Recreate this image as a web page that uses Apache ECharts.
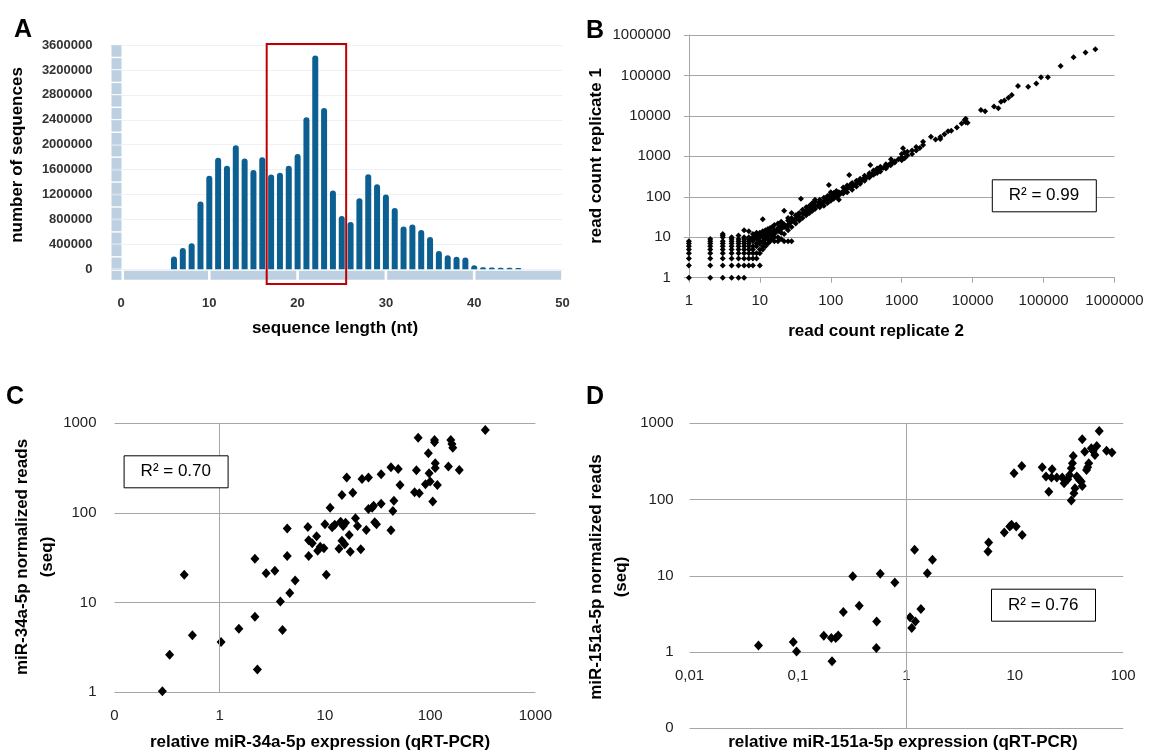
<!DOCTYPE html>
<html><head><meta charset="utf-8">
<script src="https://cdn.jsdelivr.net/npm/echarts@6/dist/echarts.min.js"></script>
<style>html,body{margin:0;padding:0;background:#fff}#c{width:1149px;height:753px}</style>
</head><body><div id="c"></div>
<script>
const FONT = '"Liberation Sans", Arial, Helvetica, sans-serif';

// ---------- Panel A: length distribution ----------
const aLengths = [6,7,8,9,10,11,12,13,14,15,16,17,18,19,20,21,22,23,24,25,26,27,28,29,30,31,32,33,34,35,36,37,38,39,40,41,42,43,44,45];
const aCounts = [205000,340000,420000,1090000,1500000,1790000,1660000,1990000,1780000,1595000,1800000,1520000,1550000,1660000,1850000,2440000,3430000,2590000,1265000,855000,760000,1140000,1525000,1365000,1200000,985000,685000,720000,630000,520000,295000,225000,200000,188000,65000,32000,27000,26000,26000,22000];
const aXTicks = ['0','10','20','30','40','50'];
const aYTicks = ['0','400000','800000','1200000','1600000','2000000','2400000','2800000','3200000','3600000'];
const aBox = [16.5, 25.5]; // highlighted length window

// ---------- Panel B: replicate read counts [replicate 2, replicate 1] ----------
const bPoints = [
[1,1],[1,2],[1,3],[1,4],[1,5],[1,6],[1,7],[1,8],
[2,1],[2,2],[2,3],[2,4],[2,5],[2,6],[2,7],[2,8],[2,9],
[3,1],[3,2],[3,3],[3,4],[3,5],[3,6],[3,7],[3,8],[3,10],[3,11],[3,12],
[4,1],[4,2],[4,3],[4,4],[4,5],[4,6],[4,7],[4,8],[4,9],[4,10],
[5,1],[5,2],[5,3],[5,4],[5,5],[5,6],[5,7],[5,8],[5,9],[5,11],
[6,1],[6,2],[6,3],[6,4],[6,5],[6,6],[6,7],[6,8],[6,9],[6,10],[6,15],
[7,2],[7,3],[7,4],[7,5],[7,6],[7,7],[7,8],[7,9],[7,10],[7,14],
[8,2],[8,3],[8,4],[8,5],[8,6],[8,8],[8,9],[8,10],[8,12],
[9,3],[9,4],[9,6],[9,7],[9,9],[9,10],[9,11],[9,13],
[10,2],[10,4],[10,5],[10,7],[10,8],[10,10],[10,12],[10,13],
[11,5],[11,6],[11,8],[11,10],[11,11],[11,14],[11,28],
[12,6],[12,7],[12,9],[12,11],[12,12],[12,13],[12,15],
[13,7],[13,9],[13,10],[13,13],[13,16],
[14,8],[14,10],[14,11],[14,12],[14,14],[14,17],
[15,9],[15,11],[15,13],[15,18],
[16,8],[16,10],[16,12],[16,15],[16,20],[17,14],
[18,8],[18,10],[18,14],[18,17],[18,22],[19,15],
[20,9],[20,13],[20,16],[20,19],[20,24],[21,20],
[22,8],[22,12],[22,18],[22,21],[22,45],[24,17],
[25,8],[25,15],[25,20],[25,26],[25,30],[26,22],
[28,8],[28,18],[28,24],[28,30],[28,40],[30,25],
[32,22],[32,28],[32,35],[33,30],[35,38],[36,26],[36,32],[36,40],[38,90],
[40,30],[40,38],[40,48],[42,40],[45,35],[45,44],[45,55],[47,42],
[50,40],[50,50],[50,60],[52,55],[55,45],[55,58],[55,70],[58,52],
[60,50],[60,62],[60,75],[60,85],[65,60],[68,72],[70,55],[70,70],[70,85],[75,65],
[80,60],[80,78],[80,95],[85,80],[90,70],[90,88],[90,105],[94,196],[95,90],
[100,80],[100,95],[100,115],[100,130],[105,100],[110,90],[110,105],[110,125],[115,110],
[120,100],[120,118],[120,140],[125,120],[130,85],[130,110],[130,130],[140,125],
[150,120],[150,140],[150,170],[160,150],[170,130],[170,160],[170,190],[180,170],[182,346],[190,200],
[200,150],[200,185],[200,220],[210,190],[230,180],[230,210],[230,250],[250,230],
[260,210],[260,240],[260,280],[280,260],[300,250],[300,290],[300,330],[320,300],
[350,300],[350,340],[350,380],[361,612],[380,350],[400,350],[400,400],[400,450],[420,380],
[450,390],[450,440],[450,500],[480,450],[500,420],[500,480],[500,550],[550,520],
[600,500],[600,560],[600,640],[650,600],[700,600],[700,680],[707,845],[750,700],
[800,700],[800,760],[900,850],[1000,800],[1000,950],[1000,1150],[1043,1580],
[1100,900],[1100,1250],[1200,1050],[1200,1300],[1400,1150],[1400,1400],
[1600,1400],[1600,1700],[1800,1600],[2000,1900],[2000,2300],[2583,3069],
[3000,2600],[3500,2700],[3500,3000],[4000,3500],[4500,4200],[5000,4300],
[6000,5200],[7000,6500],[7715,7943],[8000,7000],[8000,8500],[8500,6800],
[13100,14000],[15000,13000],[20000,17000],[23000,15500],[25100,22400],[28000,24000],
[32000,28000],[35600,33000],[43600,55000],[60700,52600],[79000,63000],[92000,89700],
[115000,89700],[174000,172000],[265000,282000],[390000,367000],[537000,447000]
];
const bTicks = ['1','10','100','1000','10000','100000','1000000'];

// ---------- Panel C: miR-34a-5p [qRT-PCR, normalized reads] ----------
const cPoints = [
[0.285,1.03],[0.334,2.63],[0.46,20.5],[0.55,4.32],[1.03,3.64],[1.52,5.13],[2.16,30.9],[2.16,6.98],
[2.28,1.8],[2.76,21.2],[3.34,22.7],[3.77,10.3],[3.95,4.96],[4.38,66.9],[4.38,33.2],[4.63,12.8],
[5.21,17.6],[6.88,69.8],[7.0,49.6],[7.0,33.2],[7.57,45.9],[8.33,55],[8.53,38],[9.02,42.1],
[9.77,40.5],[10.3,20.4],[10.0,74.8],[11.2,114.7],[11.7,69.2],[12.4,74],[13.6,40],[14.1,80],
[14.5,159],[14.5,49.1],[14.9,71.6],[15.4,44.7],[15.7,78],[16.1,248],[17.0,56.8],[17.4,37],
[18.4,168.6],[19.5,87.2],[20.4,71.6],[21.9,39.3],[22.5,239],[24.7,64.6],[25.9,248],[25.9,110.8],
[28.1,114.7],[29,120.7],[29.7,78.7],[30.9,74.8],[34.2,270],[34.2,127],[42.4,323],[42.4,64.1],
[44.2,105],[45.2,137],[49.7,309],[51.7,205],[71.1,170],[74,299],[76.9,692],[78.8,166],
[90.2,209],[96.1,463],[97.7,277],[100,224],[105.8,134],[110,652],[110,614],[111.7,358],
[111.7,317],[117,205],[149,329],[157,652],[161,589],[164,535],[189,302],[334,843]
];
const cXTicks = ['0','1','10','100','1000'];
const cYTicks = ['1','10','100','1000'];

// ---------- Panel D: miR-151a-5p [qRT-PCR, normalized reads] ----------
const dPoints = [
[0.0432,1.22],[0.0905,1.35],[0.097,1.02],[0.173,1.64],[0.203,1.53],[0.223,1.53],[0.235,1.65],
[0.206,0.755],[0.262,3.34],[0.32,9.9],[0.367,4.05],[0.532,2.52],[0.528,1.13],[0.574,10.6],
[0.782,8.18],[1.08,2.87],[1.12,2.06],[1.21,2.52],[1.19,21.9],[1.36,3.66],[1.56,10.8],[1.74,16.2],
[5.66,20.8],[5.74,27.3],[8.0,37],[8.98,44.3],[9.33,46.6],[10.3,44.3],[11.7,34.4],[9.84,221],
[11.6,276],[17.9,265],[19.4,200],[20.6,127],[22.1,250],[21.8,195],[24.4,195],[27.4,195],
[28.5,164],[30.8,185],[32,210],[33.2,97],[33.2,257],[34,299],[34.6,373],[35.1,121],[35.9,141],
[37.3,200],[38.5,190],[39.5,181],[41.9,151],[41.9,617],[41,172],[44.2,425],[45.9,245],[47,265],
[48.1,299],[50.8,470],[52.8,434],[54.8,385],[57,505],[60.1,794],[70.2,438],[78.7,413]
];
const dXTicks = ['0,01','0,1','1','10','100'];
const dYTicks = ['0','1','10','100','1000'];

const r2Labels = ['R\u00b2 = 0.99','R\u00b2 = 0.70','R\u00b2 = 0.76'];

// ---------- chart ----------
const GRID_GRAY = '#a6a6a6';
const BAND = '#bdd0e1';
const tickFmt = (arr, off) => v => arr[Math.round(Math.log10(v)) + off] || '';
const labelStyle = {fontFamily: FONT, fontSize: 15, color: '#222'};

const chart = echarts.init(document.getElementById('c'), null, {renderer: 'canvas'});
const option = {
  animation: false,
  backgroundColor: '#fff',
  grid: [
    {left: 121, top: 45, width: 441.5, height: 224.3, containLabel: false, outerBoundsMode: 'none'},
    {left: 688.9, top: 35, width: 425.6, height: 242.7, containLabel: false, outerBoundsMode: 'none'},
    {left: 114.5, top: 423.3, width: 420.9, height: 269, containLabel: false, outerBoundsMode: 'none'},
    {left: 689.6, top: 423.3, width: 433.6, height: 305, containLabel: false, outerBoundsMode: 'none'}
  ],
  xAxis: [
    {gridIndex: 0, type: 'value', min: 0, max: 50, interval: 10, offset: 6,
     axisLine: {show: false}, axisTick: {show: false}, splitLine: {show: false},
     axisLabel: {margin: 22, fontFamily: FONT, fontSize: 13, fontWeight: 'bold', color: '#333',
       formatter: v => aXTicks[Math.round(v / 10)]}},
    {gridIndex: 1, type: 'log', logBase: 10, min: 1, max: 1000000,
     axisLine: {show: true, lineStyle: {color: GRID_GRAY}},
     axisTick: {show: true, length: 5, lineStyle: {color: GRID_GRAY}},
     minorTick: {show: false}, splitLine: {show: false},
     axisLabel: Object.assign({margin: 16, formatter: tickFmt(bTicks, 0)}, labelStyle)},
    {gridIndex: 2, type: 'log', logBase: 10, min: 0.1, max: 1000,
     axisLine: {show: false}, axisTick: {show: false}, splitLine: {show: false},
     axisLabel: Object.assign({margin: 16, formatter: tickFmt(cXTicks, 1)}, labelStyle)},
    {gridIndex: 3, type: 'log', logBase: 10, min: 0.01, max: 100, offset: -76,
     axisLine: {show: false}, axisTick: {show: false}, splitLine: {show: false},
     axisLabel: Object.assign({margin: 16, formatter: tickFmt(dXTicks, 2)}, labelStyle)}
  ],
  yAxis: [
    {gridIndex: 0, type: 'value', min: 0, max: 3600000, interval: 400000, offset: 9,
     axisLine: {show: false},
     axisTick: {show: true, length: 10, lineStyle: {color: '#d3deea'}},
     splitLine: {show: true, lineStyle: {color: '#eef1f5'}},
     axisLabel: {margin: 19.5, fontFamily: FONT, fontSize: 13, fontWeight: 'bold', color: '#333',
       formatter: v => aYTicks[Math.round(v / 400000)]}},
    {gridIndex: 1, type: 'log', logBase: 10, min: 1, max: 1000000,
     axisLine: {show: true, lineStyle: {color: GRID_GRAY}},
     axisTick: {show: true, length: 5, lineStyle: {color: GRID_GRAY}},
     minorTick: {show: false},
     splitLine: {show: true, lineStyle: {color: GRID_GRAY, width: 1}},
     axisLabel: Object.assign({margin: 18, formatter: tickFmt(bTicks, 0)}, labelStyle)},
    {gridIndex: 2, type: 'log', logBase: 10, min: 1, max: 1000,
     axisLine: {show: false}, axisTick: {show: false},
     splitLine: {show: true, lineStyle: {color: GRID_GRAY, width: 1}},
     axisLabel: Object.assign({margin: 18, formatter: tickFmt(cYTicks, 0)}, labelStyle)},
    {gridIndex: 3, type: 'log', logBase: 10, min: 0.1, max: 1000,
     axisLine: {show: false}, axisTick: {show: false},
     splitLine: {show: true, lineStyle: {color: GRID_GRAY, width: 1}},
     axisLabel: Object.assign({margin: 16, formatter: tickFmt(dYTicks, 1)}, labelStyle)}
  ],
  title: [
    {text: r2Labels[0], left: 991.8, top: 179.3},
    {text: r2Labels[1], left: 123.6, top: 455.3},
    {text: r2Labels[2], left: 991, top: 588.7}
  ].map(t => Object.assign(t, {padding: [8, 17], borderColor: '#000', borderWidth: 1, backgroundColor: '#fff',
      textStyle: {fontFamily: FONT, fontSize: 17, fontWeight: 'normal', color: '#000'}, z: 10})),
  series: [
    {type: 'bar', xAxisIndex: 0, yAxisIndex: 0, barWidth: 6,
     data: aLengths.map((l, i) => [l, aCounts[i]]),
     itemStyle: {color: '#0b6091', borderRadius: [3, 3, 0, 0]}},
    {type: 'scatter', xAxisIndex: 1, yAxisIndex: 1, data: bPoints, symbol: 'diamond', symbolSize: 6,
     itemStyle: {color: '#000', opacity: 1}},
    {type: 'scatter', xAxisIndex: 2, yAxisIndex: 2, data: cPoints, symbol: 'diamond', symbolSize: [9, 10],
     itemStyle: {color: '#000', opacity: 1},
     markLine: {silent: true, symbol: 'none', label: {show: false}, animation: false,
       lineStyle: {color: GRID_GRAY, type: 'solid', width: 1}, data: [{xAxis: 1}]}},
    {type: 'scatter', xAxisIndex: 3, yAxisIndex: 3, data: dPoints, symbol: 'diamond', symbolSize: [9, 10],
     itemStyle: {color: '#000', opacity: 1},
     markLine: {silent: true, symbol: 'none', label: {show: false}, animation: false,
       lineStyle: {color: GRID_GRAY, type: 'solid', width: 1}, data: [{xAxis: 1}]}}
  ]
};
chart.setOption(option);

// decorations derived from axis scales
const px = v => chart.convertToPixel({xAxisIndex: 0}, v);
const py = v => chart.convertToPixel({yAxisIndex: 0}, v);
const bandEls = [];
const baseY = py(0);
// horizontal segmented band under the x axis (one segment per 10 nt)
for (let i = 0; i < 5; i++) {
  const l = px(i * 10) + (i === 0 ? 3 : 1.3), r = px(i * 10 + 10) - 1.3;
  bandEls.push({type: 'rect', z: 1, shape: {x: l, y: baseY + 1.5, width: r - l, height: 9}, style: {fill: BAND}});
}
// vertical segmented band left of the y axis (one segment per 200000)
const bandX = px(0) - 9.5;
for (let v = 0; v < 3600000; v += 200000) {
  const t = py(v + 200000) + 0.7, b = py(v) - 0.7;
  bandEls.push({type: 'rect', z: 1, shape: {x: bandX, y: t, width: 10, height: b - t}, style: {fill: BAND}});
}
bandEls.push({type: 'rect', z: 1, shape: {x: bandX, y: baseY + 1.5, width: 10, height: 9}, style: {fill: BAND}});

const x1 = px(aBox[0]), x2 = px(aBox[1]);
const txt = (text, x, y, opts) => Object.assign({type: 'text', x: x, y: y, z: 50,
  style: Object.assign({text: text, fontFamily: FONT, fontSize: 17, fontWeight: 'bold', fill: '#000',
    align: 'center', verticalAlign: 'middle'}, (opts && opts.style) || {})}, (opts && opts.el) || {});
const ROT = {el: {rotation: Math.PI / 2}};
chart.setOption({
  graphic: bandEls.concat([
    {type: 'rect', z: 60, shape: {x: x1, y: 44, width: x2 - x1, height: 240},
     style: {fill: 'none', stroke: '#c00000', lineWidth: 2}},
    txt('A', 23, 30, {style: {fontSize: 25}}),
    txt('B', 595, 31, {style: {fontSize: 25}}),
    txt('C', 15, 397, {style: {fontSize: 25}}),
    txt('D', 595, 397, {style: {fontSize: 25}}),
    txt('number of sequences', 17, 155, ROT),
    txt('sequence length (nt)', 335, 328),
    txt('read count replicate 1', 596, 156, ROT),
    txt('read count replicate 2', 876, 331),
    txt('miR-34a-5p normalized reads\n(seq)', 34.5, 557, {el: {rotation: Math.PI / 2}, style: {lineHeight: 25}}),
    txt('relative miR-34a-5p expression (qRT-PCR)', 320, 742),
    txt('miR-151a-5p normalized reads\n(seq)', 609, 577, {el: {rotation: Math.PI / 2}, style: {lineHeight: 25}}),
    txt('relative miR-151a-5p expression (qRT-PCR)', 903, 742)
  ])
});
</script>
</body></html>
